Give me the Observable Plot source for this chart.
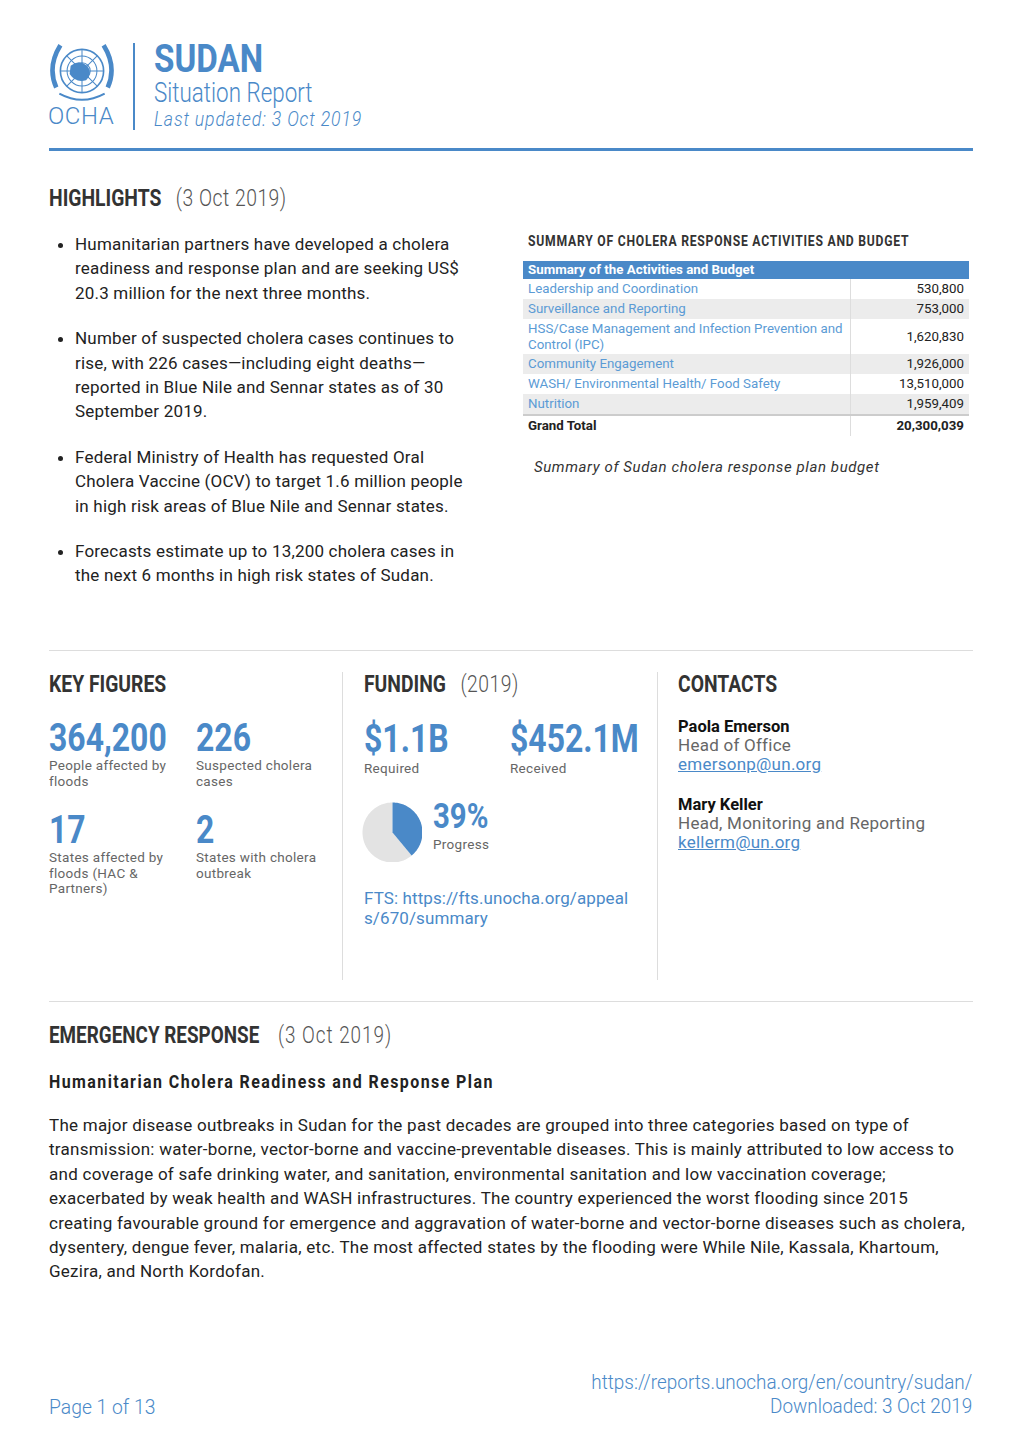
<!DOCTYPE html>
<html><head><meta charset="utf-8">
<script src="https://cdn.jsdelivr.net/npm/d3@7"></script>
<script src="https://cdn.jsdelivr.net/npm/@observablehq/plot@0.6"></script>
<style>
html,body{margin:0;padding:0;background:#fff;}
body{width:1020px;height:1443px;position:relative;font-family:Roboto,"Noto Sans",sans-serif;color:#222;overflow:hidden;}
.a{position:absolute;white-space:nowrap;}
.c{display:inline-block;transform:scaleX(.84);transform-origin:0 50%;}
.blue{color:#4a89c8;}
.h2{font-size:23px;font-weight:700;color:#333;}
.h2 span.l{font-weight:300;color:#555;letter-spacing:0.6px;}
.big{font-size:38px;font-weight:700;color:#4a89c8;line-height:34px;}
.lab{font-size:13.5px;color:#666;line-height:15.5px;white-space:normal;letter-spacing:0.3px;}
ul{margin:0;padding:0 0 0 26px;}
li{font-size:17px;line-height:24.4px;margin:0 0 21px 0;color:#222;letter-spacing:0.2px;}
p.body{font-size:17px;line-height:24.4px;margin:0;color:#222;letter-spacing:0.26px;}
table.t{border-collapse:collapse;font-size:13.3px;width:446px;}
table.t td{padding:0 5px;height:20px;line-height:16px;}
table.t td.v{text-align:right;border-left:1px solid #ddd;color:#222;width:108px;}
table.t td.k{color:#5b9bd5;}
table.t tr.g td{background:#ececec;}
</style></head><body>
<div id="root"></div>
<script>
// ---- data ----
const title = "SUDAN";
const subtitle = "Situation Report";
const updated = "Last updated: 3 Oct 2019";
const highlights = [
  "Humanitarian partners have developed a cholera readiness and response plan and are seeking US$ 20.3 million for the next three months.",
  "Number of suspected cholera cases continues to rise, with 226 cases\u2014including eight deaths\u2014 reported in Blue Nile and Sennar states as of 30 September 2019.",
  "Federal Ministry of Health has requested Oral Cholera Vaccine (OCV) to target 1.6 million people in high risk areas of Blue Nile and Sennar states.",
  "Forecasts estimate up to 13,200 cholera cases in the next 6 months in high risk states of Sudan."
];
const budgetActivities = ["Leadership and Coordination","Surveillance and Reporting","HSS/Case Management and Infection Prevention and Control (IPC)","Community Engagement","WASH/ Environmental Health/ Food Safety","Nutrition"];
const budgetValues = [530800, 753000, 1620830, 1926000, 13510000, 1959409];
const budgetTotal = 20300039;
const keyFigureValues = ["364,200","226","17","2"];
const keyFigureLabels = ["People affected by floods","Suspected cholera cases","States affected by floods (HAC & Partners)","States with cholera outbreak"];
const fundingRequired = "$1.1B";
const fundingReceived = "$452.1M";
const progressPct = 39;
const pieColors = ["#4a89c8","#e3e3e3"];

const root = document.getElementById("root");
function el(html){root.insertAdjacentHTML("beforeend", html);}

// header
el(`<svg class="a" style="left:47px;top:36px" width="70" height="70" viewBox="-34 -34 68 68" fill="none" stroke="#4a89c8">
 <circle r="21" stroke-width="1.6"/><circle r="14.5" stroke-width="1"/><circle r="8" stroke-width="1"/>
 <line x1="-21" y1="0" x2="21" y2="0" stroke-width="1"/><line x1="0" y1="-21" x2="0" y2="21" stroke-width="1"/>
 <line x1="-15" y1="-15" x2="15" y2="15" stroke-width="1"/><line x1="-15" y1="15" x2="15" y2="-15" stroke-width="1"/>
 <path d="M-11,-5 Q-3,-12 5,-5 Q11,2 4,9 Q-6,12 -12,3Z" fill="#4a89c8" stroke="none"/>
 <path d="M-25,16 Q-34,-4 -21,-25" stroke-width="4.5"/><path d="M25,16 Q34,-4 21,-25" stroke-width="4.5"/>
 <path d="M-22,22 Q0,34 22,22" stroke-width="2"/>
</svg>`);
el(`<div class="a blue" style="left:48px;top:101px;font-size:24px;font-weight:300;line-height:30px;letter-spacing:0.6px">OCHA</div>`);
el(`<div class="a" style="left:133px;top:43px;width:2px;height:87px;background:#4a89c8"></div>`);
el(`<div class="a blue" style="left:154px;top:41px;font-size:39px;font-weight:700;line-height:36px"><span class="c" style="transform:scaleX(.85)">${title}</span></div>`);
el(`<div class="a blue" style="left:154px;top:79px;font-size:28px;font-weight:300;line-height:27px"><span class="c" style="transform:scaleX(.8)">${subtitle}</span></div>`);
el(`<div class="a blue" style="left:154px;top:107px;font-size:21px;font-weight:300;font-style:italic;line-height:24px;letter-spacing:1px"><span class="c">${updated}</span></div>`);
el(`<div class="a" style="left:49px;top:148px;width:924px;height:3px;background:#4a89c8"></div>`);

// highlights
el(`<div class="a h2" style="left:49px;top:184px;line-height:30px"><span class="c">HIGHLIGHTS &nbsp;&nbsp;<span class="l">(3 Oct 2019)</span></span></div>`);
el(`<div class="a" style="left:49px;top:232px;width:425px;white-space:normal"><ul>${highlights.map(h=>`<li>${h}</li>`).join("")}</ul></div>`);

// table
el(`<div class="a" style="left:528px;top:232px;font-size:14.5px;font-weight:700;color:#333;line-height:20px;letter-spacing:0.9px"><span class="c">SUMMARY OF CHOLERA RESPONSE ACTIVITIES AND BUDGET</span></div>`);
let rows = `<tr><td colspan="2" style="background:#4a89c8;color:#fff;font-weight:700;height:18px">Summary of the Activities and Budget</td></tr>`;
budgetActivities.forEach((a,i)=>{
  const tall = a.length>45;
  rows += `<tr class="${i%2?'g':''}"><td class="k" style="${tall?'height:35px;white-space:normal;':''}">${a}</td><td class="v">${d3.format(",")(budgetValues[i])}</td></tr>`;
});
rows += `<tr style="border-top:2px solid #ccc"><td style="font-weight:700">Grand Total</td><td class="v" style="font-weight:700">${d3.format(",")(budgetTotal)}</td></tr>`;
el(`<div class="a" style="left:523px;top:261px;white-space:normal"><table class="t">${rows}</table></div>`);
el(`<div class="a" style="left:534px;top:457px;font-size:15px;font-style:italic;color:#333;line-height:20px;letter-spacing:0.6px">Summary of Sudan cholera response plan budget</div>`);

// divider
el(`<div class="a" style="left:49px;top:650px;width:924px;height:1px;background:#ddd"></div>`);
el(`<div class="a" style="left:342px;top:672px;width:1px;height:308px;background:#ddd"></div>`);
el(`<div class="a" style="left:657px;top:672px;width:1px;height:308px;background:#ddd"></div>`);

// key figures
el(`<div class="a h2" style="left:49px;top:670px;line-height:30px"><span class="c">KEY FIGURES</span></div>`);
const kfPos = [[49,721],[196,721],[49,813],[196,813]];
keyFigureValues.forEach((v,i)=>{
  const [x,y]=kfPos[i];
  el(`<div class="a big" style="left:${x}px;top:${y}px"><span class="c">${v}</span></div>`);
  el(`<div class="a lab" style="left:${x}px;top:${y+37}px;width:135px">${keyFigureLabels[i]}</div>`);
});

// funding
el(`<div class="a h2" style="left:364px;top:670px;line-height:30px"><span class="c">FUNDING &nbsp;&nbsp;<span class="l">(2019)</span></span></div>`);
el(`<div class="a big" style="left:364px;top:722px"><span class="c">${fundingRequired}</span></div>`);
el(`<div class="a lab" style="left:364px;top:761px">Required</div>`);
el(`<div class="a big" style="left:510px;top:722px"><span class="c">${fundingReceived}</span></div>`);
el(`<div class="a lab" style="left:510px;top:761px">Received</div>`);
el(`<div class="a" style="left:433px;top:801px;font-size:35px;font-weight:700;color:#4a89c8;line-height:32px"><span class="c">${progressPct}%</span></div>`);
el(`<div class="a lab" style="left:433px;top:837px">Progress</div>`);
el(`<div class="a blue" style="left:364px;top:888px;font-size:17px;line-height:20px;width:270px;white-space:normal;word-break:break-all;letter-spacing:0.1px">FTS: https://fts.unocha.org/appeals/670/summary</div>`);

// pie via Plot
function slice(from, to){
  const n = Math.max(2, Math.ceil((to-from)*200));
  const pts = [{x:0,y:0}];
  for(let i=0;i<=n;i++){const t=(from+(to-from)*i/n)*2*Math.PI; pts.push({x:Math.sin(t),y:Math.cos(t)});}
  pts.push({x:0,y:0});
  return pts;
}
const frac = progressPct/100;
const pie = Plot.plot({
  width:60,height:60,margin:0,
  x:{domain:[-1,1],axis:null},y:{domain:[-1,1],axis:null},
  marks:[
    Plot.line(slice(frac,1),{x:"x",y:"y",fill:pieColors[1],stroke:"none"}),
    Plot.line(slice(0,frac),{x:"x",y:"y",fill:pieColors[0],stroke:"none"})
  ]
});
pie.style.position="absolute";pie.style.left="362px";pie.style.top="802px";
root.appendChild(pie);

// contacts
el(`<div class="a h2" style="left:678px;top:670px;line-height:30px"><span class="c">CONTACTS</span></div>`);
const cStyle = "font-size:17px;line-height:19px;letter-spacing:0.25px";
el(`<div class="a" style="left:678px;top:717px;${cStyle}"><b style="font-size:16.5px;letter-spacing:0;color:#111">Paola Emerson</b><br><span style="color:#666">Head of Office</span><br><span class="blue" style="text-decoration:underline">emersonp@un.org</span></div>`);
el(`<div class="a" style="left:678px;top:795px;${cStyle}"><b style="font-size:16.5px;letter-spacing:0;color:#111">Mary Keller</b><br><span style="color:#666">Head, Monitoring and Reporting</span><br><span class="blue" style="text-decoration:underline">kellerm@un.org</span></div>`);

el(`<div class="a" style="left:49px;top:1001px;width:924px;height:1px;background:#ddd"></div>`);

// emergency response
el(`<div class="a h2" style="left:49px;top:1021px;line-height:30px"><span class="c" style="transform:scaleX(.82)">EMERGENCY RESPONSE &nbsp;&nbsp;&nbsp;<span class="l" style="letter-spacing:1.2px">(3 Oct 2019)</span></span></div>`);
el(`<div class="a" style="left:49px;top:1070px;font-size:19px;font-weight:700;color:#222;line-height:24px;letter-spacing:1.7px"><span class="c">Humanitarian Cholera Readiness and Response Plan</span></div>`);
el(`<div class="a" style="left:49px;top:1113px;width:925px;white-space:normal"><p class="body">The major disease outbreaks in Sudan for the past decades are grouped into three categories based on type of transmission: water-borne, vector-borne and vaccine-preventable diseases. This is mainly attributed to low access to and coverage of safe drinking water, and sanitation, environmental sanitation and low vaccination coverage; exacerbated by weak health and WASH infrastructures. The country experienced the worst flooding since 2015 creating favourable ground for emergence and aggravation of water-borne and vector-borne diseases such as cholera, dysentery, dengue fever, malaria, etc. The most affected states by the flooding were While Nile, Kassala, Khartoum, Gezira, and North Kordofan.</p></div>`);

// footer
el(`<div class="a blue" style="left:49px;top:1394px;font-size:21px;font-weight:300;line-height:26px"><span class="c" style="transform:scaleX(.92)">Page 1 of 13</span></div>`);
el(`<div class="a blue" style="right:48px;top:1370px;font-size:21px;font-weight:300;line-height:24px;text-align:right;transform:scaleX(.9);transform-origin:100% 50%">https://reports.unocha.org/en/country/sudan/<br>Downloaded: 3 Oct 2019</div>`);
</script>
</body></html>
